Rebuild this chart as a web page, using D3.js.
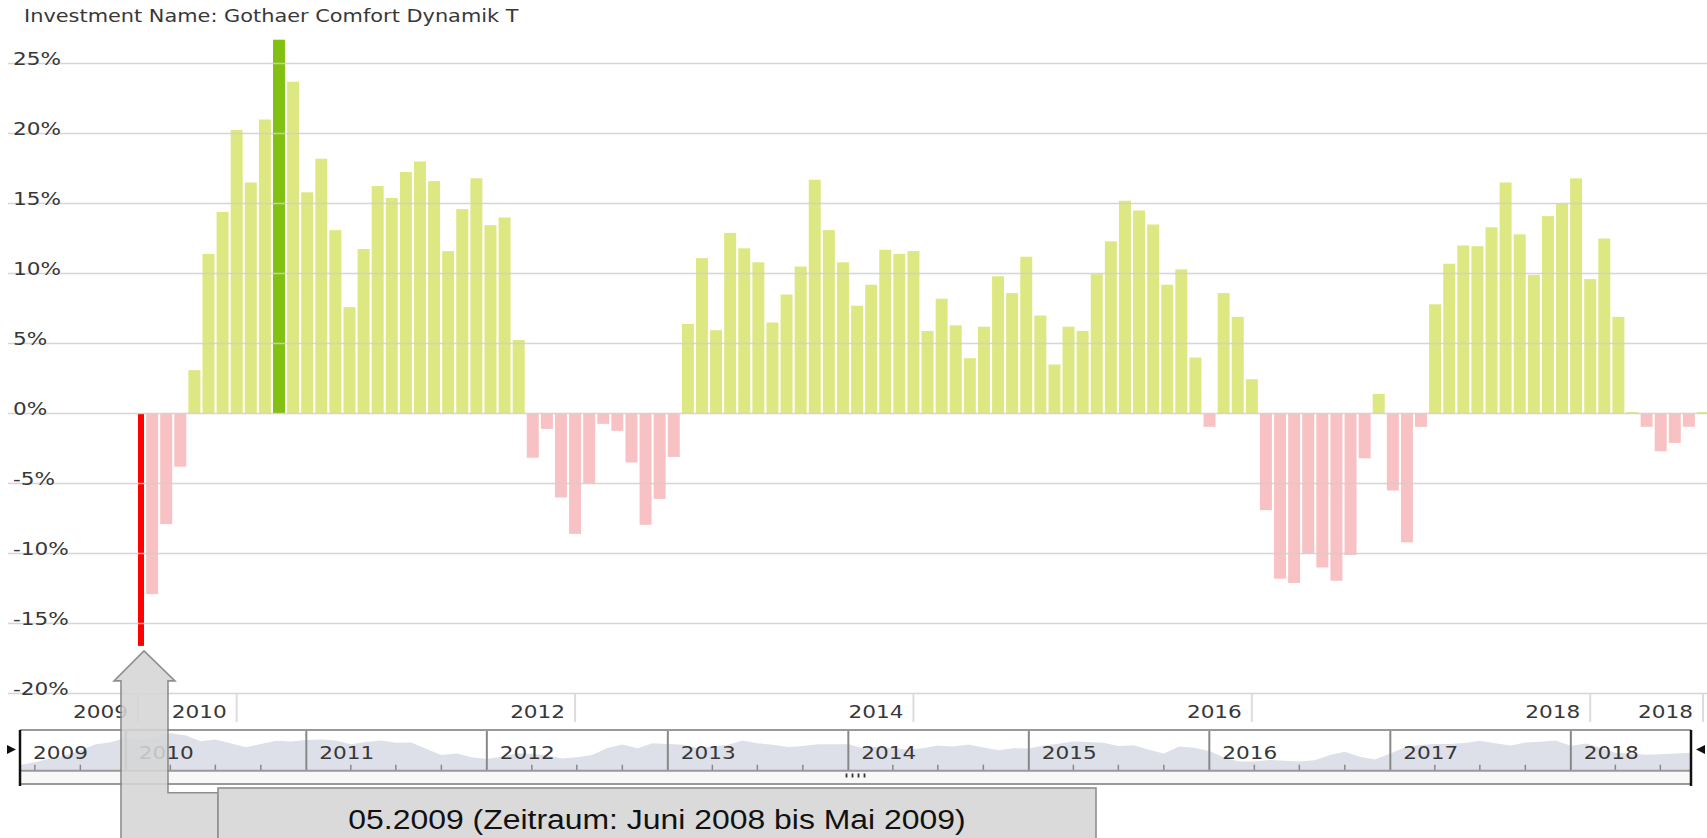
<!DOCTYPE html>
<html>
<head>
<meta charset="utf-8">
<script src="https://cdn.jsdelivr.net/npm/d3@7"></script>
<style>
  body { margin: 0; background: #fff; }
  svg { display: block; }
  text { font-family: "DejaVu Sans", Verdana, sans-serif; fill: #383838; }
</style>
</head>
<body>
<div id="chart"></div>
<script>
const fundName = "Gothaer Comfort Dynamik T";
const firstMonth = "2009-05";
// rolling 12 month return in %, one per month
const returns = [
  -16.6, -12.9, -7.9, -3.8, 3.1, 11.4, 14.4, 20.25, 16.5, 21.0,
  26.7, 23.7, 15.8, 18.2, 13.1, 7.6, 11.75, 16.25, 15.4, 17.25,
  18.0, 16.6, 11.6, 14.6, 16.8, 13.45, 14.0, 5.25, -3.16, -1.1,
  -6.0, -8.6, -5.0, -0.74, -1.24, -3.5, -7.95, -6.1, -3.1, 6.4,
  11.1, 5.95, 12.9, 11.8, 10.8, 6.5, 8.5, 10.5, 16.7, 13.1,
  10.8, 7.7, 9.2, 11.7, 11.4, 11.6, 5.9, 8.2, 6.3, 3.95,
  6.2, 9.8, 8.6, 11.2, 7.0, 3.5, 6.2, 5.9, 9.95, 12.3,
  15.2, 14.5, 13.5, 9.2, 10.3, 4.0, -0.95, 8.6, 6.9, 2.45,
  -6.9, -11.8, -12.1, -10.0, -11.0, -11.95, -10.1, -3.2, 1.4, -5.5,
  -9.2, -0.95, 7.8, 10.7, 12.0, 11.95, 13.3, 16.5, 12.8, 9.9,
  14.1, 15.0, 16.8, 9.6, 12.5, 6.9, 0.1, -0.95, -2.7, -2.1,
  -0.95, 0.1
];
const yTicks = [-20, -15, -10, -5, 0, 5, 10, 15, 20, 25];
const topTickMonths = ["2009-05", "2009-12", "2011-12", "2013-12", "2015-12", "2017-12", "2018-08"];
const topTickLabels = ["2009", "2010", "2012", "2014", "2016", "2018", "2018"];
const selectedMonth = "2009-05";
const germanMonths = ["Januar", "Februar", "März", "April", "Mai", "Juni", "Juli",
  "August", "September", "Oktober", "November", "Dezember"];

const W = 1707, H = 838;
const STRETCH = 1.27; // labels in the original are wide
const FS = "17px";
const svg = d3.select("#chart").append("svg").attr("width", W).attr("height", H);

const parseMonth = d3.timeParse("%Y-%m");
const keyFmt = d3.timeFormat("%Y-%m");
const start = parseMonth(firstMonth);
const data = returns.map((v, i) => {
  let m = d3.timeMonth.offset(start, i);
  return { key: keyFmt(m), month: m, value: v };
});
const maxIdx = d3.maxIndex(data, d => d.value);

const x = d3.scaleBand().domain(data.map(d => d.key)).range([132, 1709]).paddingInner(0.15).paddingOuter(0);
const y = d3.scaleLinear().domain([-20, 25]).range([693.5, 63.5]);
const bw = x.bandwidth();

// title
svg.append("text")
  .attr("transform", "translate(24,22) scale(1.16,1)")
  .style("font-size", "18px")
  .text("Investment Name: " + fundName);

// bars
const barColor = (d, i) => {
  if (d.key === selectedMonth) return "#ff0000";
  if (i === maxIdx) return "#82c111";
  return d.value >= 0 ? "#dee882" : "#f8c2c4";
};
svg.append("g")
  .selectAll("rect")
  .data(data)
  .join("rect")
  .attr("x", d => d.key === selectedMonth ? x(d.key) + bw / 2 : x(d.key))
  .attr("width", d => d.key === selectedMonth ? bw / 2 : bw)
  .attr("y", d => y(Math.max(0, d.value)))
  .attr("height", d => Math.abs(y(d.value) - y(0)))
  .attr("fill", barColor);

// grid + y labels
const grid = svg.append("g");
grid.selectAll("line")
  .data(yTicks)
  .join("line")
  .attr("x1", 8).attr("x2", W)
  .attr("y1", d => y(d)).attr("y2", d => y(d))
  .attr("stroke", "#cfcfcf")
  .attr("stroke-opacity", 0.85)
  .attr("stroke-width", 1.6);
grid.selectAll("text")
  .data(yTicks)
  .join("text")
  .attr("transform", d => `translate(13,${y(d) + 1}) scale(${STRETCH},1)`)
  .style("font-size", FS)
  .text(d => d + "%");

// year axis under the bars
const topAxis = svg.append("g");
topTickMonths.forEach((m, i) => {
  let sx = x(m) + bw / 2;
  topAxis.append("line")
    .attr("x1", sx).attr("x2", sx)
    .attr("y1", 694).attr("y2", 722)
    .attr("stroke", "#dcdcdc").attr("stroke-width", 2);
  topAxis.append("text")
    .attr("transform", `translate(${sx - 10},718) scale(${STRETCH},1)`)
    .attr("text-anchor", "end")
    .style("font-size", FS)
    .text(topTickLabels[i]);
});

// navigator
const navLeft = 20, navRight = 1691, navTop = 730, navBase = 770.7, navBottom = 784;
const navX = d3.scaleTime()
  .domain([d3.timeMonth.offset(data[0].month, 1), d3.timeMonth.offset(data[data.length - 1].month, 1)])
  .range([navLeft, navRight]);
const navY = d3.scaleLinear().domain([-24.5, 31]).range([navBase, navTop]);
const nav = svg.append("g");

nav.append("rect")
  .attr("x", navLeft).attr("y", navBase)
  .attr("width", navRight - navLeft).attr("height", navBottom - navBase)
  .attr("fill", "#f8f8f8");

nav.append("path")
  .datum(data)
  .attr("d", d3.area()
    .x(d => navX(d3.timeMonth.offset(d.month, 1)))
    .y0(navBase)
    .y1(d => navY(d.value)))
  .attr("fill", "#dde0e9");

const navYearsStart = d3.timeYear.range(d3.timeYear.ceil(navX.domain()[0]), navX.domain()[1]);
const quarters = d3.timeMonth.every(3).range(navX.domain()[0], navX.domain()[1])
  .filter(d => d.getMonth() !== 0);

nav.selectAll(".qtick")
  .data(quarters)
  .join("line")
  .attr("x1", d => navX(d)).attr("x2", d => navX(d))
  .attr("y1", navBase - 6).attr("y2", navBase)
  .attr("stroke", "#888").attr("stroke-width", 1.5);

nav.selectAll(".ysep")
  .data(navYearsStart)
  .join("line")
  .attr("x1", d => navX(d)).attr("x2", d => navX(d))
  .attr("y1", navTop).attr("y2", navBase)
  .attr("stroke", "#888").attr("stroke-width", 2);

const navYearLabels = [d3.timeYear.floor(navX.domain()[0])].concat(navYearsStart);
nav.selectAll(".ylab")
  .data(navYearLabels)
  .join("text")
  .attr("transform", d => `translate(${Math.max(navLeft, navX(d)) + 13},759) scale(${STRETCH},1)`)
  .style("font-size", FS)
  .text(d => d.getFullYear());

// box lines
[navTop, navBase, navBottom].forEach(yy => {
  nav.append("line")
    .attr("x1", navLeft).attr("x2", navRight)
    .attr("y1", yy).attr("y2", yy)
    .attr("stroke", "#999").attr("stroke-width", 2);
});
[navLeft, navRight].forEach(xx => {
  nav.append("line")
    .attr("x1", xx).attr("x2", xx)
    .attr("y1", navTop).attr("y2", navBottom + 2)
    .attr("stroke", "#111").attr("stroke-width", 2.5);
});
// handles
nav.append("path").attr("d", "M7,745 L16,749.5 L7,754 Z").attr("fill", "#111");
nav.append("path").attr("d", "M1705,745 L1696,749.5 L1705,754 Z").attr("fill", "#111");
// grip
const gripMid = (navLeft + navRight) / 2;
nav.selectAll(".grip")
  .data([-1.5, -0.5, 0.5, 1.5])
  .join("line")
  .attr("x1", d => gripMid + d * 6).attr("x2", d => gripMid + d * 6)
  .attr("y1", 773.5).attr("y2", 777.5)
  .attr("stroke", "#333").attr("stroke-width", 1.8);

// callout
const sel = data.find(d => d.key === selectedMonth);
const tx = x(sel.key) + bw, ty = y(sel.value) + 5;
const boxL = 218, boxR = 1096, boxT = 788;
const arrow = [
  [tx, ty], [tx + 31, ty + 30], [tx + 24, ty + 30], [tx + 24, boxT + 4.7],
  [boxL, boxT + 4.7], [boxL, H + 10], [tx - 23, H + 10], [tx - 23, ty + 30], [tx - 30, ty + 30]
];
const call = svg.append("g").attr("opacity", 0.88);
call.append("path")
  .attr("d", d3.line()(arrow) + "Z")
  .attr("fill", "#d6d6d6")
  .attr("stroke", "#808080").attr("stroke-width", 1.6);
call.append("rect")
  .attr("x", boxL).attr("y", boxT)
  .attr("width", boxR - boxL).attr("height", H - boxT + 10)
  .attr("fill", "#d6d6d6")
  .attr("stroke", "#808080").attr("stroke-width", 1.6);

const m = sel.month;
const calloutText = d3.timeFormat("%m.%Y")(m) + " (Zeitraum: " +
  germanMonths[(m.getMonth() + 1) % 12] + " " + (m.getFullYear() - 1) + " bis " +
  germanMonths[m.getMonth()] + " " + m.getFullYear() + ")";
svg.append("text")
  .attr("transform", `translate(${(boxL + boxR) / 2},829) scale(1.14,1)`)
  .attr("text-anchor", "middle")
  .style("font-family", "'Liberation Sans', Arial, sans-serif")
  .style("font-size", "28px")
  .style("fill", "#111")
  .text(calloutText);
</script>
</body>
</html>
